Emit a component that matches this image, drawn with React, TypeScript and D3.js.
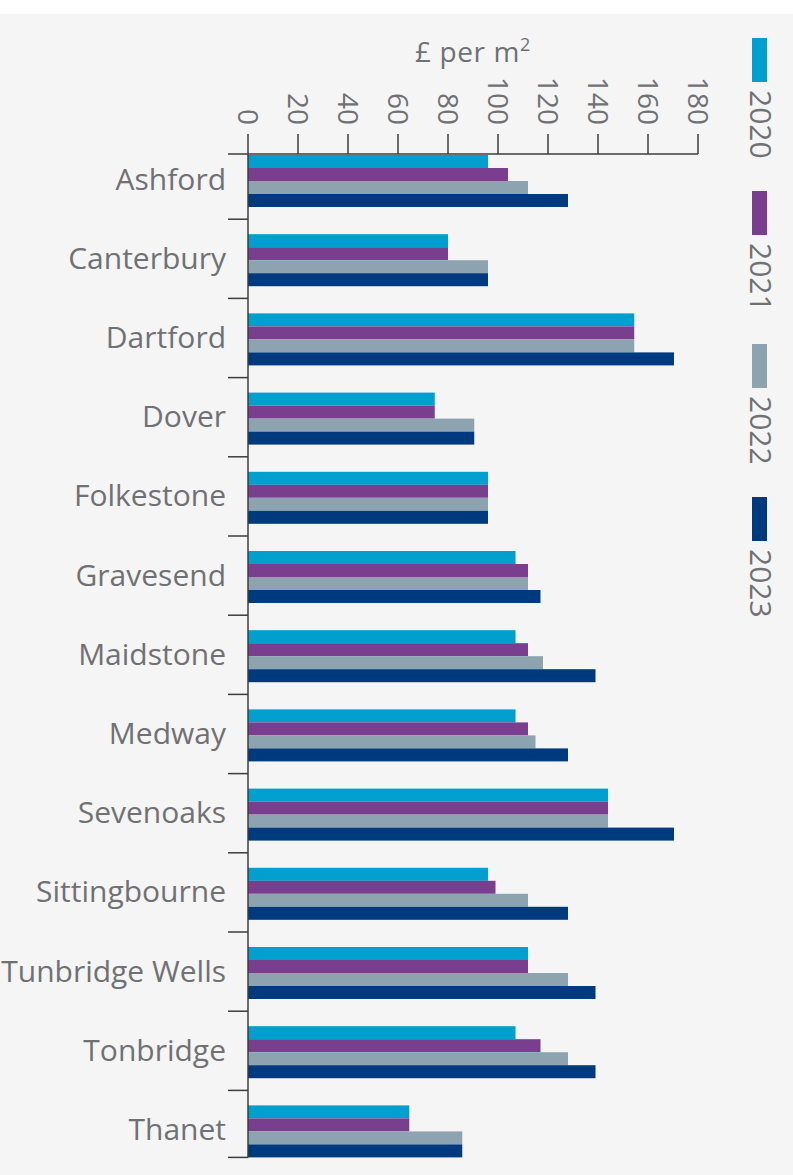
import * as d3 from "d3";

const categories = [
  "Ashford",
  "Canterbury",
  "Dartford",
  "Dover",
  "Folkestone",
  "Gravesend",
  "Maidstone",
  "Medway",
  "Sevenoaks",
  "Sittingbourne",
  "Tunbridge Wells",
  "Tonbridge",
  "Thanet",
];

const years = ["2020", "2021", "2022", "2023"];

const values2020 = [96, 80, 154.5, 74.7, 96, 107, 107, 107, 144, 96, 112, 107, 64.5];
const values2021 = [104, 80, 154.5, 74.7, 96, 112, 112, 112, 144, 99, 112, 117, 64.5];
const values2022 = [112, 96, 154.5, 90.5, 96, 112, 118, 115, 144, 112, 128, 128, 85.7];
const values2023 = [128, 96, 170.4, 90.5, 96, 117, 139, 128, 170.4, 128, 139, 139, 85.7];

const seriesValues = [values2020, values2021, values2022, values2023];
const colors = ["#009fcd", "#7a3e8e", "#8da3b0", "#003a7e"];

const W = 793;
const H = 1175;
const font = "'Open Sans', sans-serif";
const textColor = "#707174";
const axisColor = "#3c3c3c";

export default function App() {
  const x = d3.scaleLinear().domain([0, 180]).range([248, 698]);
  const y = d3
    .scaleBand<string>()
    .domain(categories)
    .range([140, 140 + 13 * 79.2]);
  const inner = d3.scaleBand<string>().domain(years).range([15, 67]);

  const axisTop = (y(categories[0]) ?? 0) + 14;
  const axisBottom = (y(categories[categories.length - 1]) ?? 0) + 67;
  const tickLen = 20;

  return (
    <svg
      width={W}
      height={H}
      style={{ position: "absolute", left: 0, top: 0, display: "block" }}
      fontFamily={font}
    >
      <rect x={0} y={0} width={W} height={H} fill="#ffffff" />
      <rect x={0} y={14} width={W} height={H - 14} fill="#f5f5f5" />

      {/* bars */}
      {categories.map((c, i) => (
        <g key={c} transform={`translate(0,${y(c)})`}>
          {years.map((yr, j) => (
            <rect
              key={yr}
              x={x(0)}
              y={inner(yr)}
              width={x(seriesValues[j][i]) - x(0)}
              height={inner.bandwidth()}
              fill={colors[j]}
            />
          ))}
          <text
            x={226}
            y={(inner(years[0]) ?? 0) + 24}
            dy="0.35em"
            textAnchor="end"
            fontSize={30}
            fill={textColor}
          >
            {c}
          </text>
        </g>
      ))}

      {/* x axis */}
      <line
        x1={x(0) - tickLen}
        x2={x(180)}
        y1={axisTop}
        y2={axisTop}
        stroke={axisColor}
        strokeWidth={1.5}
      />
      {x.ticks(10).map((t) => (
        <g key={t} transform={`translate(${x(t)},${axisTop})`}>
          <line y1={0} y2={-20} stroke={axisColor} strokeWidth={1.5} />
          <text
            transform="translate(0,-29) rotate(90)"
            dy="0.35em"
            textAnchor="end"
            fontSize={28}
            fill={textColor}
          >
            {t}
          </text>
        </g>
      ))}
      <text
        x={(x(0) + x(180)) / 2}
        y={62}
        textAnchor="middle"
        fontSize={28}
        letterSpacing={0.6}
        fill={textColor}
      >
        £ per m
        <tspan fontSize={18} dy={-11}>
          2
        </tspan>
      </text>

      {/* y axis */}
      <line
        x1={x(0)}
        x2={x(0)}
        y1={axisTop}
        y2={axisBottom}
        stroke={axisColor}
        strokeWidth={1.5}
      />
      {categories.slice(1).map((c) => (
        <line
          key={c}
          x1={x(0) - tickLen}
          x2={x(0)}
          y1={y(c)}
          y2={y(c)}
          stroke={axisColor}
          strokeWidth={1.5}
        />
      ))}
      <line
        x1={x(0) - tickLen}
        x2={x(0)}
        y1={axisBottom}
        y2={axisBottom}
        stroke={axisColor}
        strokeWidth={1.5}
      />

      {/* legend */}
      {years.map((yr, j) => {
        const top = 38 + j * 153;
        return (
          <g key={yr}>
            <rect x={752} y={top} width={15} height={44} fill={colors[j]} />
            <text
              transform={`translate(760,${top + 52}) rotate(90)`}
              dy="0.35em"
              textAnchor="start"
              fontSize={30}
              fill={textColor}
            >
              {yr}
            </text>
          </g>
        );
      })}
    </svg>
  );
}
